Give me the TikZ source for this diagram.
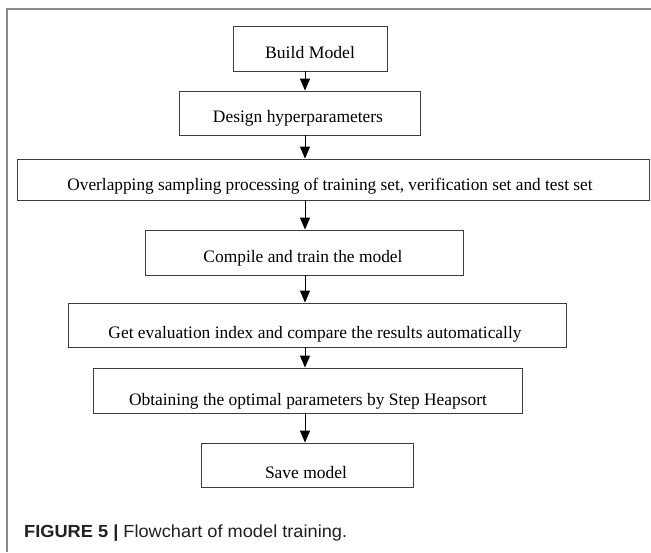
\documentclass[tikz,border=0pt]{standalone}
\usepackage{fontspec}
\setmainfont{Liberation Serif}
\newfontfamily\capfont{Liberation Sans}
\usetikzlibrary{arrows.meta}
\definecolor{boxgray}{HTML}{3C3C3C}
\definecolor{framegray}{HTML}{8A8A8A}
\definecolor{captxt}{HTML}{231F20}
\begin{document}
\begin{tikzpicture}[x=1pt,y=-1pt,
  box/.style={draw=boxgray, line width=0.9pt, inner sep=0pt},
  lbl/.style={anchor=base, inner sep=0pt, font=\fontsize{17.5}{21}\selectfont, text=black},
  arr/.style={-{Triangle[length=12pt,width=10pt]}, line width=0.9pt, draw=black}]
\useasboundingbox (0,0) rectangle (651,552);
% outer frame
\draw[framegray, line width=1.2pt] (7,552) -- (7,9) -- (651,9);
% boxes
\node[box, minimum width=154pt, minimum height=45pt] (b1) at (310,48.5) {};
\node[box, minimum width=241pt, minimum height=44pt] (b2) at (299.5,113) {};
\node[box, minimum width=632pt, minimum height=41pt] (b3) at (333,179.5) {};
\node[box, minimum width=318pt, minimum height=45pt] (b4) at (304,252.5) {};
\node[box, minimum width=498pt, minimum height=44pt] (b5) at (317,325) {};
\node[box, minimum width=429pt, minimum height=45pt] (b6) at (307.5,390.5) {};
\node[box, minimum width=212pt, minimum height=44pt] (b7) at (307,465) {};
% texts
\node[lbl] (t1) at (310,58) {\resizebox{90pt}{\height}{Build Model}};
\node[lbl] (t2) at (298,122) {\resizebox{170pt}{\height}{Design hyperparameters}};
\node[lbl] (t3) at (330,190) {\resizebox{525pt}{\height}{Overlapping sampling processing of training set, verification set and test set}};
\node[lbl] (t4) at (303,262) {\resizebox{199pt}{\height}{Compile and train the model}};
\node[lbl] (t5) at (315,338) {\resizebox{413pt}{\height}{Get evaluation index and compare the results automatically}};
\node[lbl] (t6) at (308,405) {\resizebox{358pt}{\height}{Obtaining the optimal parameters by Step Heapsort}};
\node[lbl] (t7) at (306,478) {\resizebox{82pt}{\height}{Save model}};
% arrows
\coordinate (ax) at (305,0);
\draw[arr] (b1.south -| ax) -- (b2.north -| ax);
\draw[arr] (b2.south -| ax) -- (b3.north -| ax);
\draw[arr] (b3.south -| ax) -- (b4.north -| ax);
\draw[arr] (b4.south -| ax) -- (b5.north -| ax);
\draw[arr] (b5.south -| ax) -- (b6.north -| ax);
\draw[arr] (b6.south -| ax) -- (b7.north -| ax);
% caption
\node[anchor=base west, inner sep=0pt, text=captxt, font=\capfont\fontsize{17.5}{21}\selectfont] (cap) at (24,537)
  {\resizebox{323pt}{\height}{\textbf{FIGURE 5 |} Flowchart of model training.}};
\end{tikzpicture}
\end{document}
